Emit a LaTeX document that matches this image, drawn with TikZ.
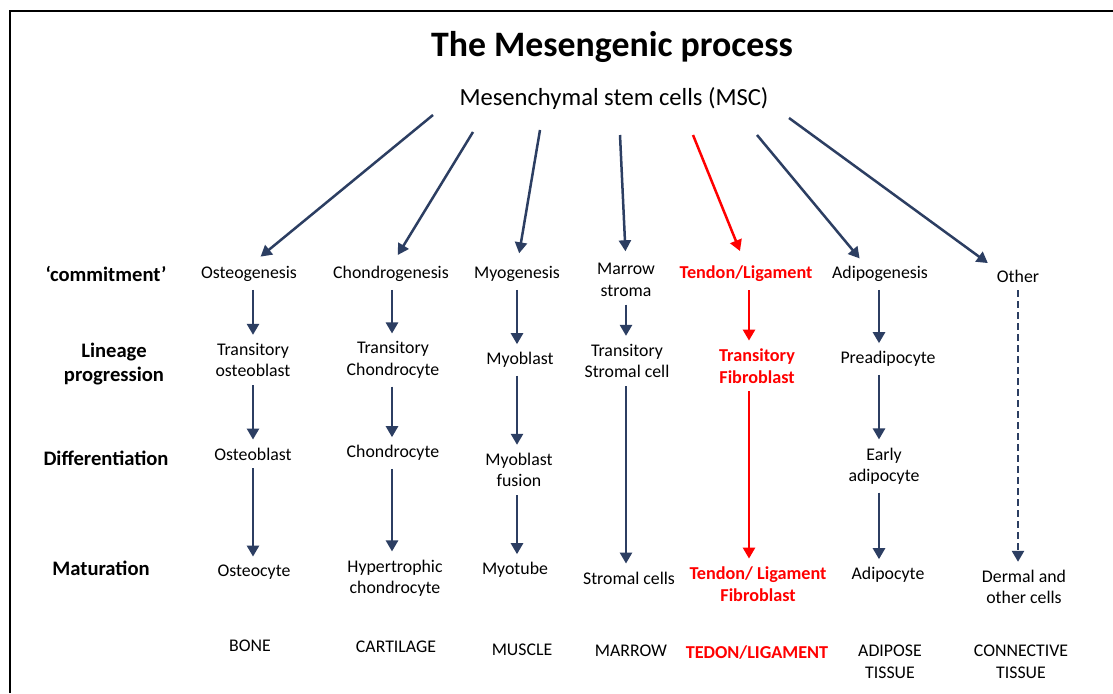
\documentclass[tikz,border=0pt]{standalone}
\usepackage{fontspec}
\setmainfont{Carlito}
\usetikzlibrary{arrows.meta,calc}
\definecolor{navy}{RGB}{44,62,98}
\definecolor{tred}{RGB}{255,0,0}
\begin{document}
\begin{tikzpicture}[x=1pt,y=-1pt,
 txt/.style={font=\fontsize{17.8}{21.5}\selectfont, align=center, inner sep=0pt},
 lab/.style={txt, font=\fontsize{20.6}{24}\selectfont\bfseries},
 redtxt/.style={txt, font=\fontsize{18.2}{21.5}\selectfont\bfseries, text=tred},
 arr/.style={draw=navy, line width=2.5pt, -{Triangle[width=12pt,length=11pt]}},
 rarr/.style={arr, draw=tred},
 darr/.style={arr, dashed, dash pattern=on 7pt off 4pt},
 vshort/.style={shorten <=8pt, shorten >=8pt}
]
\useasboundingbox (0,0) rectangle (1113,693);
\fill[white] (0,0) rectangle (1113,693);
\draw[line width=2pt] (10,693) -- (10,11) -- (1113,11);

% title
\node[inner sep=0pt, font=\fontsize{35.8}{40}\selectfont\bfseries] (title) at (612,47) {The Mesengenic process};
\node[inner sep=0pt, font=\fontsize{24.6}{28}\selectfont] (msc) at (614,98) {Mesenchymal stem cells (MSC)};

% row labels
\node[lab] (r1) at (106,274) {‘commitment’};
\node[lab] (r2) at (114,364) {Lineage\\progression};
\node[lab] (r3) at (106,458) {Differentiation};
\node[lab] (r4) at (101,568) {Maturation};

% column coordinates
\coordinate (c1) at (253,0);
\coordinate (c2) at (392,0);
\coordinate (c3) at (517,0);
\coordinate (c4) at (626,0);
\coordinate (c5) at (749,0);
\coordinate (c6) at (879,0);
\coordinate (c7) at (1018,0);

% column 1
\node[txt] (a1) at (249,274) {Osteogenesis};
\node[txt] (a2) at (253,360) {Transitory\\osteoblast};
\node[txt] (a3) at (253,454) {Osteoblast};
\node[txt] (a4) at (254,572) {Osteocyte};
\node[txt] (a5) at (250,646) {BONE};
% column 2
\node[txt] (b1) at (391,274) {Chondrogenesis};
\node[txt] (b2) at (393,360) {Transitory\\Chondrocyte};
\node[txt] (b3) at (393,453) {Chondrocyte};
\node[txt] (b4) at (395,578) {Hypertrophic\\chondrocyte};
\node[txt] (b5) at (396,647) {CARTILAGE};
% column 3
\node[txt] (m1) at (517,274) {Myogenesis};
\node[txt] (m2) at (520,360) {Myoblast};
\node[txt] (m3) at (519,470) {Myoblast\\fusion};
\node[txt] (m4) at (515,570) {Myotube};
\node[txt] (m5) at (522,650) {MUSCLE};
% column 4
\node[txt] (s1) at (626,280) {Marrow\\stroma};
\node[txt] (s2) at (627,361) {Transitory\\Stromal cell};
\node[txt] (s4) at (629,578) {Stromal cells};
\node[txt] (s5) at (631,651) {MARROW};
% column 5
\node[redtxt] (t1) at (746,274) {Tendon/Ligament};
\node[redtxt] (t2) at (757,366) {Transitory\\Fibroblast};
\node[redtxt] (t4) at (758,584) {Tendon/ Ligament\\Fibroblast};
\node[redtxt] (t5) at (757,653) {TEDON/LIGAMENT};
% column 6
\node[txt] (d1) at (880,274) {Adipogenesis};
\node[txt] (d2) at (888,359) {Preadipocyte};
\node[txt] (d3) at (884,466) {Early\\adipocyte};
\node[txt] (d4) at (888,575) {Adipocyte};
\node[txt] (d5) at (890,662) {ADIPOSE\\TISSUE};
% column 7
\node[txt] (o1) at (1018,276) {Other};
\node[txt] (o4) at (1024,587) {Dermal and\\other cells};
\node[txt] (o5) at (1021,662) {CONNECTIVE\\TISSUE};

% diagonal arrows from MSC
\coordinate (q1) at (433,115);
\coordinate (q2) at (473,132);
\coordinate (q3) at (540,130);
\coordinate (q4) at (620,135);
\coordinate (q5) at (693,135);
\coordinate (q6) at (757,135);
\coordinate (q7) at (789,118);
\draw[arr, shorten >=15pt] (q1) -- (a1.north);
\draw[arr, shorten >=13pt] (q2) -- (b1.north);
\draw[arr, shorten >=13pt] (q3) -- (m1.north);
\draw[arr, shorten >=12pt] (q4) -- (s1.north);
\draw[rarr, shorten >=16pt] (q5) -- (t1.north);
\draw[arr, shorten >=10pt] (q6) -- ($(d1.north)+(-14,0)$);
\draw[arr, shorten >=11pt] (q7) -- (o1.north west);

% vertical arrows
\draw[arr, vshort] (c1 |- a1.south) -- (c1 |- a2.north);
\draw[arr, vshort] (c1 |- a2.south) -- (c1 |- a3.north);
\draw[arr, vshort] (c1 |- a3.south) -- (c1 |- a4.north);

\draw[arr, vshort] (c2 |- b1.south) -- (c2 |- b2.north);
\draw[arr, vshort] (c2 |- b2.south) -- (c2 |- b3.north);
\draw[arr, vshort] (c2 |- b3.south) -- (c2 |- b4.north);

\draw[arr, vshort] (c3 |- m1.south) -- (c3 |- m2.north);
\draw[arr, vshort] (c3 |- m2.south) -- (c3 |- m3.north);
\draw[arr, vshort] (c3 |- m3.south) -- (c3 |- m4.north);

\draw[arr, vshort] (c4 |- s1.south) -- (c4 |- s2.north);
\draw[arr, vshort] (c4 |- s2.south) -- (c4 |- s4.north);

\draw[rarr, vshort] (c5 |- t1.south) -- (c5 |- t2.north);
\draw[rarr, vshort] (c5 |- t2.south) -- (c5 |- t4.north);

\draw[arr, vshort] (c6 |- d1.south) -- (c6 |- d2.north);
\draw[arr, vshort] (c6 |- d2.south) -- (c6 |- d3.north);
\draw[arr, vshort] (c6 |- d3.south) -- (c6 |- d4.north);

\draw[darr, vshort] (c7 |- o1.south) -- (c7 |- o4.north);
\end{tikzpicture}
\end{document}
